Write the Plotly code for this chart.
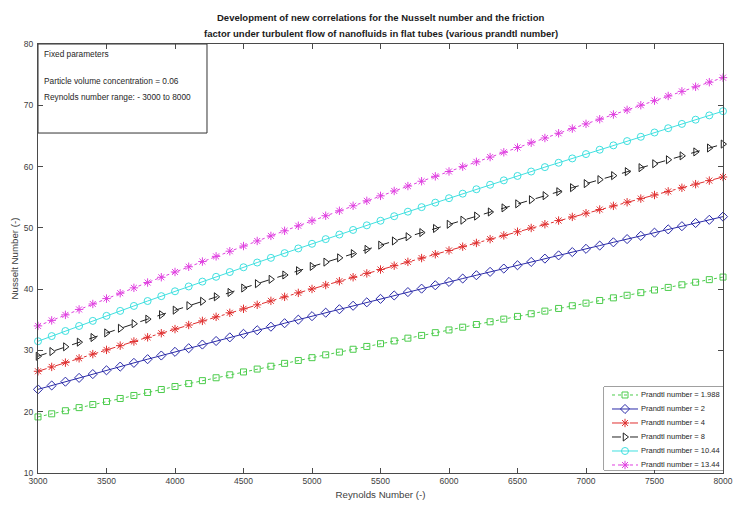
import plotly.graph_objects as go

reynolds = [3000, 3100, 3200, 3300, 3400, 3500, 3600, 3700, 3800, 3900,
            4000, 4100, 4200, 4300, 4400, 4500, 4600, 4700, 4800, 4900,
            5000, 5100, 5200, 5300, 5400, 5500, 5600, 5700, 5800, 5900,
            6000, 6100, 6200, 6300, 6400, 6500, 6600, 6700, 6800, 6900,
            7000, 7100, 7200, 7300, 7400, 7500, 7600, 7700, 7800, 7900, 8000]

nu_pr_1988 = [19.15, 19.66, 20.16, 20.67, 21.17, 21.66, 22.16, 22.65, 23.14, 23.62,
              24.11, 24.59, 25.07, 25.54, 26.02, 26.49, 26.96, 27.42, 27.89, 28.36,
              28.82, 29.28, 29.73, 30.19, 30.65, 31.10, 31.55, 32.00, 32.45, 32.90,
              33.34, 33.79, 34.23, 34.67, 35.11, 35.55, 35.98, 36.42, 36.85, 37.29,
              37.72, 38.15, 38.58, 39.00, 39.43, 39.86, 40.28, 40.71, 41.13, 41.55, 41.97]

nu_pr_2 = [23.65, 24.28, 24.90, 25.52, 26.14, 26.76, 27.36, 27.97, 28.57, 29.17,
           29.77, 30.36, 30.96, 31.54, 32.13, 32.71, 33.29, 33.87, 34.44, 35.02,
           35.59, 36.16, 36.72, 37.29, 37.85, 38.41, 38.97, 39.52, 40.08, 40.63,
           41.18, 41.73, 42.27, 42.82, 43.36, 43.90, 44.44, 44.98, 45.51, 46.05,
           46.58, 47.11, 47.64, 48.17, 48.70, 49.22, 49.75, 50.27, 50.79, 51.31, 51.83]

nu_pr_4 = [26.60, 27.31, 28.01, 28.71, 29.40, 30.09, 30.78, 31.46, 32.14, 32.81,
           33.48, 34.15, 34.82, 35.48, 36.14, 36.79, 37.44, 38.09, 38.74, 39.39,
           40.03, 40.67, 41.30, 41.94, 42.57, 43.20, 43.83, 44.45, 45.07, 45.69,
           46.31, 46.93, 47.54, 48.16, 48.77, 49.37, 49.98, 50.59, 51.19, 51.79,
           52.39, 52.99, 53.59, 54.18, 54.77, 55.36, 55.95, 56.54, 57.13, 57.71, 58.30]

nu_pr_8 = [29.05, 29.82, 30.59, 31.35, 32.11, 32.86, 33.61, 34.36, 35.10, 35.83,
           36.57, 37.30, 38.02, 38.75, 39.46, 40.18, 40.89, 41.60, 42.31, 43.01,
           43.71, 44.41, 45.11, 45.80, 46.49, 47.18, 47.86, 48.55, 49.23, 49.90,
           50.58, 51.25, 51.92, 52.59, 53.26, 53.92, 54.59, 55.25, 55.90, 56.56,
           57.22, 57.87, 58.52, 59.17, 59.82, 60.46, 61.11, 61.75, 62.39, 63.03, 63.67]

nu_pr_1044 = [31.50, 32.34, 33.17, 33.99, 34.82, 35.64, 36.45, 37.26, 38.06, 38.86,
              39.65, 40.44, 41.23, 42.01, 42.79, 43.57, 44.34, 45.11, 45.88, 46.64,
              47.40, 48.16, 48.91, 49.66, 50.41, 51.16, 51.90, 52.64, 53.38, 54.11,
              54.84, 55.58, 56.30, 57.03, 57.75, 58.47, 59.19, 59.91, 60.62, 61.33,
              62.04, 62.75, 63.46, 64.16, 64.86, 65.56, 66.26, 66.96, 67.65, 68.35, 69.04]

nu_pr_1344 = [34.00, 34.90, 35.80, 36.69, 37.58, 38.46, 39.34, 40.21, 41.08, 41.94,
              42.80, 43.65, 44.50, 45.35, 46.19, 47.03, 47.86, 48.69, 49.52, 50.34,
              51.16, 51.98, 52.79, 53.60, 54.41, 55.22, 56.02, 56.82, 57.61, 58.41,
              59.20, 59.99, 60.77, 61.55, 62.33, 63.11, 63.89, 64.66, 65.43, 66.20,
              66.97, 67.73, 68.49, 69.25, 70.01, 70.76, 71.52, 72.27, 73.02, 73.77, 74.51]

series_names = ["Prandtl number = 1.988", "Prandtl number = 2", "Prandtl number = 4",
                "Prandtl number = 8", "Prandtl number = 10.44", "Prandtl number = 13.44"]

x_ticks = [3000, 3500, 4000, 4500, 5000, 5500, 6000, 6500, 7000, 7500, 8000]
y_ticks = [10, 20, 30, 40, 50, 60, 70, 80]

FONT = "Liberation Sans, Arial, sans-serif"

styles = [
    dict(color="#4ccc4c", symbol="square-open", dash="dot", size=6),
    dict(color="#2a2aa8", symbol="diamond-open", dash="solid", size=7),
    dict(color="#e03030", symbol="asterisk-open", dash="dashdot", size=7),
    dict(color="#222222", symbol="triangle-right-open", dash="dash", size=7),
    dict(color="#40e0e0", symbol="circle-open", dash="solid", size=7),
    dict(color="#e040e0", symbol="asterisk-open", dash="dot", size=7),
]

all_series = [nu_pr_1988, nu_pr_2, nu_pr_4, nu_pr_8, nu_pr_1044, nu_pr_1344]

fig = go.Figure()
for name, vals, st in zip(series_names, all_series, styles):
    fig.add_trace(go.Scatter(
        x=reynolds, y=vals, name=name, mode="lines+markers", showlegend=False,
        cliponaxis=False,
        line=dict(color=st["color"], width=1, dash=st["dash"]),
        marker=dict(symbol=st["symbol"], size=st["size"], color=st["color"],
                    line=dict(color=st["color"], width=1)),
    ))

# ---- compact legend drawn in a small inset axis (layout only) ----
LEG_X0, LEG_X1, LEG_Y0, LEG_Y1 = 0.8263, 1.0, 0.007, 0.2005
leg_rows = [75, 61, 47, 33, 19, 5]          # row centres in inset units (0..83)
for name, st, row in zip(series_names, styles, leg_rows):
    fig.add_trace(go.Scatter(
        x=[8, 34], y=[row, row], mode="lines", showlegend=False, hoverinfo="skip",
        xaxis="x2", yaxis="y2",
        line=dict(color=st["color"], width=1, dash=st["dash"])))
    fig.add_trace(go.Scatter(
        x=[21], y=[row], mode="markers", showlegend=False, hoverinfo="skip",
        xaxis="x2", yaxis="y2",
        marker=dict(symbol=st["symbol"], size=st["size"], color=st["color"],
                    line=dict(color=st["color"], width=1))))
    fig.add_annotation(text=name, xref="x2", yref="y2", x=35, y=row,
                       xanchor="left", yanchor="middle", showarrow=False,
                       font=dict(family=FONT, size=7.5, color="#262626"))

axis_common = dict(
    showline=True, linecolor="#4a4a4a", linewidth=1, mirror="ticks",
    ticks="inside", ticklen=5, tickcolor="#4a4a4a", showgrid=False, zeroline=False,
    automargin=False,
    tickfont=dict(family=FONT, size=8.5, color="#404040"),
)

fig.update_layout(
    width=733, height=507,
    margin=dict(l=38, r=10, t=44, b=34),
    paper_bgcolor="white", plot_bgcolor="white",
    font=dict(family=FONT, color="#262626"),
    xaxis=dict(range=[3000, 8000], tickvals=x_ticks, ticklabeloverflow="allow",
               title=dict(text="Reynolds Number (-)", font=dict(family=FONT, size=9.7, color="#404040"),
                          standoff=6),
               **axis_common),
    yaxis=dict(range=[10, 80], tickvals=y_ticks, ticklabeloverflow="allow",
               ticklabelstandoff=2,
               title=dict(text="Nusselt Number (-)", font=dict(family=FONT, size=9.7, color="#404040"),
                          standoff=3),
               **axis_common),
    xaxis2=dict(domain=[LEG_X0, LEG_X1], anchor="y2", range=[0, 119], visible=False, fixedrange=True),
    yaxis2=dict(domain=[LEG_Y0, LEG_Y1], anchor="x2", range=[0, 83], visible=False, fixedrange=True),
    showlegend=False,
)

# legend frame
fig.add_shape(type="rect", xref="paper", yref="paper", x0=LEG_X0, x1=LEG_X1, y0=LEG_Y0, y1=LEG_Y1,
              line=dict(color="#444444", width=1), fillcolor="white", layer="below")

# title (two lines)
fig.add_annotation(text="<b>Development of new correlations for the Nusselt number and the friction</b>",
                   xref="paper", yref="paper", x=0.5, y=1.0629, xanchor="center", yanchor="middle",
                   showarrow=False, font=dict(family=FONT, size=9.5, color="#1a1a1a"))
fig.add_annotation(text="<b>factor under turbulent flow of nanofluids in flat tubes (various prandtl number)</b>",
                   xref="paper", yref="paper", x=0.5, y=1.0256, xanchor="center", yanchor="middle",
                   showarrow=False, font=dict(family=FONT, size=9.5, color="#1a1a1a"))

# fixed-parameters box
fig.add_shape(type="rect", xref="paper", yref="paper", x0=0, x1=0.2467, y0=0.7925, y1=1,
              line=dict(color="#333333", width=1), fillcolor="white", layer="below")

ann_lines = [("Fixed parameters", 0.9767),
             ("Particle volume concentration = 0.06", 0.9138),
             ("Reynolds number range: - 3000 to 8000", 0.8765)]
for txt, yy in ann_lines:
    fig.add_annotation(text=txt, xref="paper", yref="paper", x=0.006, y=yy,
                       xanchor="left", yanchor="middle", showarrow=False,
                       font=dict(family=FONT, size=8.3, color="#262626"))

fig.write_html("out.html",
               config={"displayModeBar": False},
               post_script="document.body.style.margin='0px';document.body.style.overflow='hidden';")
